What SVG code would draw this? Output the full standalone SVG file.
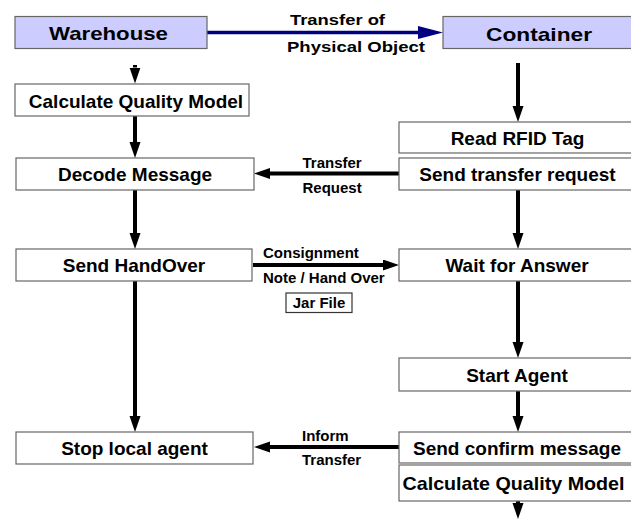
<svg xmlns="http://www.w3.org/2000/svg" width="631" height="520" viewBox="0 0 631 520">
  <style>
    .box { fill: #ffffff; stroke: #666666; stroke-width: 1.2; }
    .head { fill: #ccccff; stroke: #666666; stroke-width: 1.2; }
    .t { font-family: "Liberation Sans", Arial, sans-serif; font-weight: bold; font-size: 19px; fill: #000000; text-anchor: middle; }
    .ts { font-family: "Liberation Sans", Arial, sans-serif; font-weight: bold; font-size: 19px; fill: #000000; text-anchor: start; }
    .lbl { font-family: "Liberation Sans", Arial, sans-serif; font-weight: bold; font-size: 15px; fill: #000000; }
    .flow { stroke: #000000; stroke-width: 4; fill: none; marker-end: url(#ah); }
    .nav { stroke: #000080; stroke-width: 3.3; fill: none; marker-end: url(#ahNavy); }
  </style>
  <defs>
    <marker id="ah" markerUnits="userSpaceOnUse" markerWidth="17" markerHeight="12" refX="0" refY="5.5" orient="auto">
      <path d="M0,0 L16,5.5 L0,11 Z" fill="#000000"/>
    </marker>
    <marker id="ahNavy" markerUnits="userSpaceOnUse" markerWidth="26" markerHeight="14" refX="0" refY="6.5" orient="auto">
      <path d="M0,0 L25,6.5 L0,13 Z" fill="#000080"/>
    </marker>
  </defs>

  <rect width="631" height="520" fill="#ffffff"/>

  <!-- connectors -->
  <g id="connectors">
    <line class="nav" x1="207" y1="32.5" x2="418" y2="32.5"/>
    <!-- left column -->
    <line class="flow" x1="135" y1="65" x2="135" y2="67.5"/>
    <line class="flow" x1="135" y1="116" x2="135" y2="142"/>
    <line class="flow" x1="135" y1="190" x2="135" y2="233"/>
    <line class="flow" x1="135" y1="281" x2="135" y2="416"/>
    <!-- right column -->
    <line class="flow" x1="518" y1="63" x2="518" y2="106"/>
    <line class="flow" x1="518" y1="190" x2="518" y2="233"/>
    <line class="flow" x1="518" y1="281" x2="518" y2="342"/>
    <line class="flow" x1="518" y1="391" x2="518" y2="416"/>
    <line class="flow" x1="518" y1="501" x2="518" y2="503"/>
    <!-- messages between the columns -->
    <line class="flow" x1="399" y1="173.5" x2="270" y2="173.5"/>
    <line class="flow" x1="253" y1="265" x2="383" y2="265"/>
    <line class="flow" x1="399" y1="447" x2="270" y2="447"/>
  </g>

  <!-- connector labels -->
  <g id="labels">
    <text class="lbl" x="290" y="24.5" textLength="95" lengthAdjust="spacingAndGlyphs">Transfer of</text>
    <text class="lbl" x="287" y="52" textLength="138" lengthAdjust="spacingAndGlyphs">Physical Object</text>
    <text class="lbl" x="302.5" y="167.5">Transfer</text>
    <text class="lbl" x="302.5" y="192.5">Request</text>
    <text class="lbl" x="263" y="258">Consignment</text>
    <text class="lbl" x="263" y="282.5">Note / Hand Over</text>
    <text class="lbl" x="302" y="440.5">Inform</text>
    <text class="lbl" x="302" y="465">Transfer</text>
  </g>

  <g id="jar-file">
    <rect x="286" y="293" width="66" height="19.5" fill="#ffffff" stroke="#333333" stroke-width="1.2"/>
    <text class="lbl" x="319" y="308" text-anchor="middle">Jar File</text>
  </g>

  <!-- warehouse side -->
  <g id="warehouse">
    <rect class="head" x="15" y="16.5" width="192" height="32"/>
    <text class="ts" x="49" y="40" textLength="119" lengthAdjust="spacingAndGlyphs">Warehouse</text>
  </g>
  <g id="wh-calc-quality">
    <rect class="box" x="15" y="84" width="234" height="32"/>
    <text class="t" x="136" y="107.5">Calculate Quality Model</text>
  </g>
  <g id="decode-message">
    <rect class="box" x="16" y="158" width="238" height="32"/>
    <text class="t" x="135" y="181">Decode Message</text>
  </g>
  <g id="send-handover">
    <rect class="box" x="16" y="249" width="236" height="32"/>
    <text class="t" x="134" y="272">Send HandOver</text>
  </g>
  <g id="stop-local-agent">
    <rect class="box" x="16" y="432" width="237" height="32"/>
    <text class="t" x="134.5" y="455">Stop local agent</text>
  </g>

  <!-- container side -->
  <g id="container">
    <rect class="head" x="443" y="16.5" width="200" height="32"/>
    <text class="ts" x="486" y="40.5" textLength="106" lengthAdjust="spacingAndGlyphs">Container</text>
  </g>
  <g id="read-rfid">
    <rect class="box" x="399" y="122" width="244" height="31"/>
    <text class="t" x="517.5" y="144.5">Read RFID Tag</text>
  </g>
  <g id="send-transfer-request">
    <rect class="box" x="399" y="158" width="244" height="32"/>
    <text class="t" x="517.5" y="181">Send transfer request</text>
  </g>
  <g id="wait-for-answer">
    <rect class="box" x="399" y="249" width="244" height="32"/>
    <text class="t" x="517" y="272">Wait for Answer</text>
  </g>
  <g id="start-agent">
    <rect class="box" x="399" y="358" width="244" height="33"/>
    <text class="t" x="517" y="381.5">Start Agent</text>
  </g>
  <g id="send-confirm">
    <rect class="box" x="399" y="432" width="244" height="31"/>
    <text class="t" x="517" y="454.5">Send confirm message</text>
  </g>
  <g id="ct-calc-quality">
    <rect class="box" x="399" y="465" width="244" height="36"/>
    <text class="t" x="513.5" y="490" textLength="222" lengthAdjust="spacingAndGlyphs">Calculate Quality Model</text>
  </g>
</svg>
